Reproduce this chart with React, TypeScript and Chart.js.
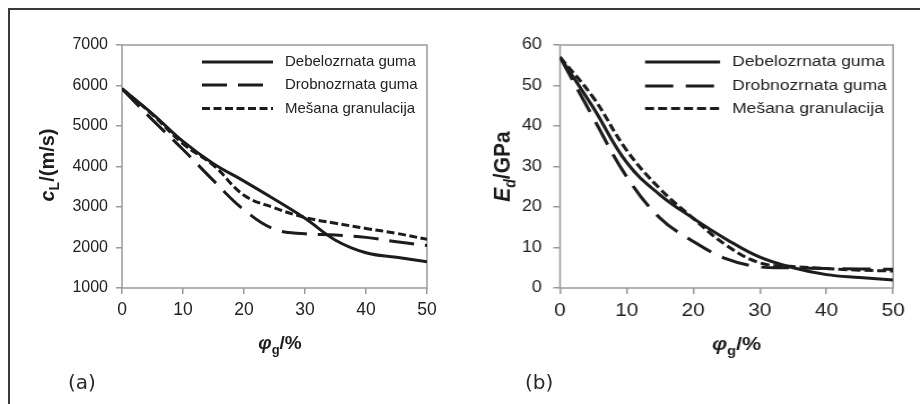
import React, { useEffect, useRef } from "react";
import { Chart, registerables } from "chart.js";

Chart.register(...registerables);

// Rubber granulate content (φg, %) on the x axis of both panels
const phiG = [0, 5, 10, 15, 20, 25, 30, 35, 40, 45, 50];
const xTickValues = [0, 10, 20, 30, 40, 50];

const seriesLabels = ["Debelozrnata guma", "Drobnozrnata guma", "Mešana granulacija"];

// Panel (a): longitudinal wave speed c_L, m/s
const speedCoarse = [5920, 5300, 4620, 4070, 3640, 3190, 2720, 2180, 1870, 1760, 1650];
const speedFine = [5920, 5150, 4420, 3650, 2930, 2450, 2340, 2310, 2250, 2140, 2050];
const speedMixed = [5920, 5280, 4560, 4030, 3290, 2980, 2740, 2600, 2470, 2350, 2200];
const speedTicks = [1000, 2000, 3000, 4000, 5000, 6000, 7000];

// Panel (b): dynamic modulus E_d, GPa
const modCoarse = [57, 44.5, 31, 23, 17.2, 12, 7.6, 5.0, 3.3, 2.6, 2.0];
const modFine = [57, 42, 27.5, 17.3, 11.5, 7.2, 5.2, 5.0, 4.8, 4.7, 4.6];
const modMixed = [57, 47, 34, 24.5, 17.2, 10.5, 6.2, 5.3, 4.8, 4.4, 4.2];
const modTicks = [0, 10, 20, 30, 40, 50, 60];

const H = 404;
const FONT = '"Liberation Sans", Arial, Helvetica, sans-serif';
const INK = "#1c1c1c";
const AXIS = "#9a9a9a";

const lineStyles = [
  { dash: [] as number[] },
  { dash: [25, 11] },
  { dash: [8, 3.5] },
];

type Part = { text: string; italic?: boolean; sub?: boolean };

function drawRich(
  ctx: CanvasRenderingContext2D,
  parts: Part[],
  cx: number,
  cy: number,
  size: number,
  rotate: boolean
) {
  ctx.save();
  ctx.translate(cx, cy);
  if (rotate) ctx.rotate(-Math.PI / 2);
  const fontFor = (p: Part) =>
    `${p.italic ? "italic " : ""}bold ${p.sub ? Math.round(size * 0.68) : size}px ${FONT}`;
  let total = 0;
  const widths = parts.map((p) => {
    ctx.font = fontFor(p);
    const w = ctx.measureText(p.text).width;
    total += w;
    return w;
  });
  let x = -total / 2;
  ctx.textBaseline = "middle";
  ctx.textAlign = "left";
  ctx.fillStyle = INK;
  parts.forEach((p, i) => {
    ctx.font = fontFor(p);
    ctx.fillText(p.text, x, p.sub ? size * 0.32 : 0);
    x += widths[i];
  });
  ctx.restore();
}

type PanelSpec = {
  canvasWidth: number;
  cssWidth: number;
  plotLeft: number;
  plotRight: number;
  plotTop: number;
  plotBottom: number;
  yMin: number;
  yMax: number;
  yTicks: number[];
  yTickSize: number;
  yTickPad: number;
  xTickSize: number;
  xTickPad: number;
  series: number[][];
  yTitle: Part[];
  yTitleSize: number;
  yTitleX: number;
  yTitleY: number;
  xTitle: Part[];
  xTitleSize: number;
  xTitleX: number;
  xTitleY: number;
  legendX1: number;
  legendX2: number;
  legendTextX: number;
  legendRows: number[];
  legendSize: number;
};

function buildConfig(spec: PanelSpec): any {
  const decor = {
    id: "decor",
    beforeDatasetsDraw(chart: any) {
      const { ctx, chartArea: a } = chart;
      ctx.save();
      ctx.strokeStyle = AXIS;
      ctx.lineWidth = 1.5;
      ctx.strokeRect(a.left, a.top, a.right - a.left, a.bottom - a.top);
      ctx.restore();
    },
    afterDraw(chart: any) {
      const ctx: CanvasRenderingContext2D = chart.ctx;
      // legend inside the plot, upper right
      chart.data.datasets.forEach((ds: any, i: number) => {
        const y = spec.legendRows[i];
        ctx.save();
        ctx.strokeStyle = INK;
        ctx.lineWidth = 3;
        ctx.lineCap = "butt";
        ctx.setLineDash(ds.borderDash || []);
        ctx.beginPath();
        ctx.moveTo(spec.legendX1, y);
        ctx.lineTo(spec.legendX2, y);
        ctx.stroke();
        ctx.setLineDash([]);
        ctx.fillStyle = "#222";
        ctx.font = `${spec.legendSize}px ${FONT}`;
        ctx.textBaseline = "middle";
        ctx.textAlign = "left";
        ctx.fillText(ds.label, spec.legendTextX, y);
        ctx.restore();
      });
      drawRich(ctx, spec.yTitle, spec.yTitleX, spec.yTitleY, spec.yTitleSize, true);
      drawRich(ctx, spec.xTitle, spec.xTitleX, spec.xTitleY, spec.xTitleSize, false);
    },
  };

  return {
    type: "line",
    data: {
      datasets: spec.series.map((vals, i) => ({
        label: seriesLabels[i],
        data: phiG.map((x, j) => ({ x, y: vals[j] })),
        borderColor: INK,
        borderWidth: 3,
        borderDash: lineStyles[i].dash,
        borderCapStyle: "butt",
        borderJoinStyle: "round",
        pointRadius: 0,
        fill: false,
        tension: 0.4,
      })),
    },
    options: {
      responsive: false,
      animation: false,
      devicePixelRatio: 1,
      layout: {
        padding: {
          left: 0,
          right: spec.canvasWidth - spec.plotRight,
          top: spec.plotTop,
          bottom: 0,
        },
      },
      plugins: {
        legend: { display: false },
        tooltip: { enabled: false },
        title: { display: false },
      },
      scales: {
        x: {
          type: "linear",
          min: 0,
          max: 50,
          afterBuildTicks: (s: any) => {
            s.ticks = xTickValues.map((v) => ({ value: v }));
          },
          afterFit: (s: any) => {
            s.height = H - spec.plotBottom;
          },
          border: { display: false },
          grid: {
            drawOnChartArea: false,
            drawTicks: true,
            tickLength: 6,
            color: AXIS,
            lineWidth: 1.5,
          },
          ticks: {
            color: "#222",
            padding: spec.xTickPad,
            maxRotation: 0,
            font: { family: FONT, size: spec.xTickSize },
            callback: (v: any) => String(v),
          },
        },
        y: {
          type: "linear",
          min: spec.yMin,
          max: spec.yMax,
          afterBuildTicks: (s: any) => {
            s.ticks = spec.yTicks.map((v) => ({ value: v }));
          },
          afterFit: (s: any) => {
            s.width = spec.plotLeft;
          },
          border: { display: false },
          grid: {
            drawOnChartArea: false,
            drawTicks: true,
            tickLength: 6,
            color: AXIS,
            lineWidth: 1.5,
          },
          ticks: {
            color: "#222",
            padding: spec.yTickPad,
            font: { family: FONT, size: spec.yTickSize },
            callback: (v: any) => String(v),
          },
        },
      },
    },
    plugins: [decor],
  };
}

function Panel({ spec, left }: { spec: PanelSpec; left: number }) {
  const ref = useRef<HTMLCanvasElement>(null);
  useEffect(() => {
    const chart = new Chart(ref.current as HTMLCanvasElement, buildConfig(spec));
    return () => chart.destroy();
  }, [spec]);
  return (
    <canvas
      ref={ref}
      width={spec.canvasWidth}
      height={H}
      style={{
        position: "absolute",
        left,
        top: 0,
        width: `${spec.cssWidth}px`,
        height: `${H}px`,
      }}
    />
  );
}

// panel (b) is drawn narrower and widened on screen
const STRETCH_B = 1.13;
const wB = Math.round(460 / STRETCH_B);

const panelA: PanelSpec = {
  canvasWidth: 460,
  cssWidth: 460,
  plotLeft: 122,
  plotRight: 427,
  plotTop: 45,
  plotBottom: 288,
  yMin: 1000,
  yMax: 7000,
  yTicks: speedTicks,
  yTickSize: 16,
  yTickPad: 8,
  xTickSize: 17.5,
  xTickPad: 6,
  series: [speedCoarse, speedFine, speedMixed],
  yTitle: [
    { text: "c", italic: true },
    { text: "L", sub: true },
    { text: "/(m/s)" },
  ],
  yTitleSize: 20,
  yTitleX: 48.5,
  yTitleY: 165,
  xTitle: [
    { text: "φ", italic: true },
    { text: "g", sub: true },
    { text: "/%" },
  ],
  xTitleSize: 19,
  xTitleX: 280,
  xTitleY: 344,
  legendX1: 202,
  legendX2: 273,
  legendTextX: 285,
  legendRows: [62, 85, 108.5],
  legendSize: 15,
};

const panelB: PanelSpec = {
  canvasWidth: wB,
  cssWidth: 460,
  plotLeft: 100 / STRETCH_B,
  plotRight: 433 / STRETCH_B,
  plotTop: 45,
  plotBottom: 288,
  yMin: 0,
  yMax: 60,
  yTicks: modTicks,
  yTickSize: 16,
  yTickPad: 10,
  xTickSize: 18.5,
  xTickPad: 6,
  series: [modCoarse, modFine, modMixed],
  yTitle: [
    { text: "E", italic: true },
    { text: "d", italic: true, sub: true },
    { text: "/GPa" },
  ],
  yTitleSize: 21,
  yTitleX: 38,
  yTitleY: 166.5,
  xTitle: [
    { text: "φ", italic: true },
    { text: "g", sub: true },
    { text: "/%" },
  ],
  xTitleSize: 19,
  xTitleX: 244.7,
  xTitleY: 345,
  legendX1: 185 / STRETCH_B,
  legendX2: 260 / STRETCH_B,
  legendTextX: 272 / STRETCH_B,
  legendRows: [62, 86, 108.5],
  legendSize: 15.5,
};

const panelTag: React.CSSProperties = {
  position: "absolute",
  top: 372,
  fontFamily: '"DejaVu Sans", sans-serif',
  fontSize: 20,
  lineHeight: "20px",
  color: "#2a2a2a",
  whiteSpace: "nowrap",
};

export default function App() {
  return (
    <div
      style={{
        position: "absolute",
        left: 0,
        top: 0,
        width: 920,
        height: H,
        overflow: "hidden",
        background: "#fff",
      }}
    >
      <div
        style={{
          position: "absolute",
          left: 8,
          top: 8,
          width: 2000,
          height: 2000,
          borderTop: "2px solid #3a3a3a",
          borderLeft: "2px solid #3a3a3a",
        }}
      />
      <Panel spec={panelA} left={0} />
      <Panel spec={panelB} left={460} />
      <div style={{ ...panelTag, left: 68 }}>(a)</div>
      <div style={{ ...panelTag, left: 525 }}>(b)</div>
    </div>
  );
}
